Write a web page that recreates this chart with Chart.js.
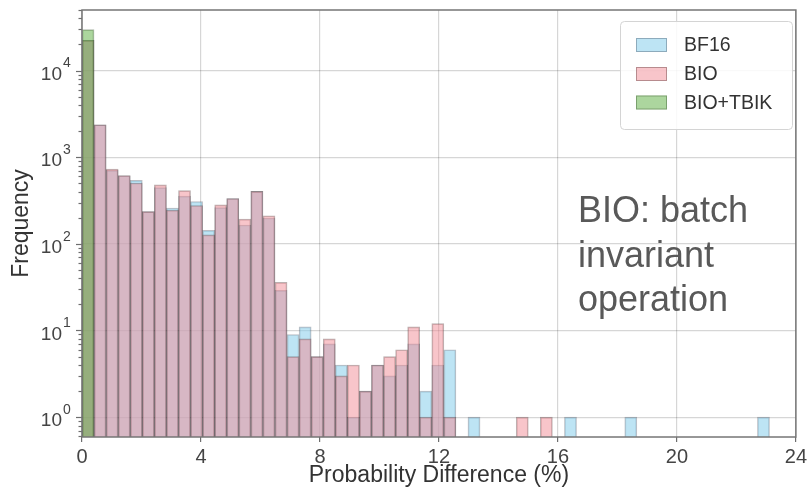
<!doctype html>
<html>
<head>
    <title>Probability Difference Histogram</title>
    <script src="https://cdn.jsdelivr.net/npm/chart.js@4.4.0/dist/chart.umd.min.js"></script>
    <style>
    body { margin: 0; background: #fff; }
    canvas { display: block; }
    </style>
</head>
<body>
    <canvas id="myChart" width="810" height="492"></canvas>
    <script>
    // histogram bins: index k covers [k*binWidth, (k+1)*binWidth) in %
    var binWidth = 0.4055;

    // counts per bin (57 bins, 0 = empty)
    var bf16Counts = [22300, 2370, 704, 611, 540, 235, 445, 259, 355, 308,
                      143, 262, 334, 165, 403, 199, 29, 9, 11, 5,
                      7, 4, 1, 2, 4, 3, 4, 7, 2, 4,
                      6, 0, 1, 0, 0, 0, 0, 0, 0, 0,
                      1, 0, 0, 0, 0, 1, 0, 0, 0, 0,
                      0, 0, 0, 0, 0, 0, 1];
    var bioCounts  = [22300, 2370, 731, 615, 504, 235, 479, 245, 412, 277,
                      127, 282, 334, 193, 403, 211, 36, 5, 8, 5,
                      8, 3, 4, 2, 4, 5, 6, 11, 1, 12,
                      1, 0, 0, 0, 0, 0, 1, 0, 1, 0,
                      0, 0, 0, 0, 0, 0, 0, 0, 0, 0,
                      0, 0, 0, 0, 0, 0, 0];
    var tbikCounts = [29700];

    var seriesLabels = ['BF16', 'BIO', 'BIO+TBIK'];
    var xTicks = [0, 4, 8, 12, 16, 20, 24];
    var yDecades = [0, 1, 2, 3, 4];
    var yMin = 0.59, yMax = 50000;
    var noteLines = ['BIO: batch', 'invariant', 'operation'];

    var fontFamily = "'Liberation Sans', Arial, Helvetica, sans-serif";
    var frameColor = '#767676';
    var gridColor = 'rgba(0,0,0,0.16)';

    // turn a count list into bar points at bin centres, skipping empty bins
    function toPoints(counts) {
        var pts = [];
        for (var k = 0; k < counts.length; k++) {
            if (counts[k] > 0) pts.push({x: (k + 0.5) * binWidth, y: counts[k]});
        }
        return pts;
    }

    function isDecade(v) {
        var l = Math.log10(v);
        return Math.abs(l - Math.round(l)) < 1e-9;
    }

    // frame, log ticks with superscript labels, legend box and side note
    var decorations = {
        id: 'decorations',
        afterDraw: function(chart) {
            var ctx = chart.ctx;
            var area = chart.chartArea;
            var ys = chart.scales.y;
            ctx.save();

            // minor / major tick marks on the log axis
            ctx.strokeStyle = '#6e6e6e';
            ctx.lineWidth = 1.2;
            for (var p = -1; p <= 4; p++) {
                for (var m = 1; m <= 9; m++) {
                    var v = m * Math.pow(10, p);
                    if (v < yMin || v > yMax) continue;
                    var py = Math.round(ys.getPixelForValue(v)) + 0.5;
                    var len = (m === 1) ? 6 : 3.5;
                    ctx.beginPath();
                    ctx.moveTo(area.left - len, py);
                    ctx.lineTo(area.left, py);
                    ctx.stroke();
                }
            }

            // 10^n labels
            ctx.fillStyle = '#444';
            yDecades.forEach(function(e) {
                var py = ys.getPixelForValue(Math.pow(10, e));
                ctx.font = '19px ' + fontFamily;
                ctx.textAlign = 'right';
                ctx.textBaseline = 'middle';
                ctx.fillText('10', 62, py + 4);
                ctx.font = '14px ' + fontFamily;
                ctx.textAlign = 'left';
                ctx.fillText(String(e), 63, py - 7);
            });

            // frame around the plot
            ctx.strokeStyle = frameColor;
            ctx.lineWidth = 1.5;
            ctx.strokeRect(area.left, area.top, area.right - area.left, area.bottom - area.top);

            // legend
            var lx = 620, ly = 21, lw = 172, lh = 108;
            ctx.beginPath();
            ctx.roundRect(lx + 0.5, ly + 0.5, lw, lh, 4);
            ctx.fillStyle = 'rgba(255,255,255,0.85)';
            ctx.fill();
            ctx.strokeStyle = '#d4d4d4';
            ctx.lineWidth = 1;
            ctx.stroke();
            var rows = [45, 74, 102.5];
            chart.data.datasets.forEach(function(ds, i) {
                ctx.fillStyle = ds.backgroundColor;
                ctx.fillRect(636, rows[i] - 7, 31, 14);
                ctx.strokeStyle = ds.borderColor;
                ctx.strokeRect(636.5, rows[i] - 6.5, 30, 13);
                ctx.fillStyle = '#333';
                ctx.font = '19.5px ' + fontFamily;
                ctx.textAlign = 'left';
                ctx.textBaseline = 'middle';
                ctx.fillText(ds.label, 684, rows[i] + 1);
            });

            // side note
            ctx.fillStyle = '#595959';
            ctx.font = '36px ' + fontFamily;
            ctx.textAlign = 'left';
            ctx.textBaseline = 'alphabetic';
            noteLines.forEach(function(t, i) {
                ctx.fillText(t, 578, 222 + i * 44.5);
            });
            ctx.restore();
        }
    };

    function drawGraph() {
        var ctx = document.getElementById('myChart').getContext('2d');
        Chart.defaults.font.family = fontFamily;
        new Chart(ctx, {
            type: 'bar',
            data: {
                // higher order is painted first, so BIO+TBIK sits on top
                datasets: [{
                    label: seriesLabels[0],
                    data: toPoints(bf16Counts),
                    order: 3,
                    backgroundColor: 'rgba(135,206,235,0.55)',
                    borderColor: 'rgba(30,40,60,0.3)',
                    borderWidth: 1
                }, {
                    label: seriesLabels[1],
                    data: toPoints(bioCounts),
                    order: 2,
                    backgroundColor: 'rgba(242,140,150,0.5)',
                    borderColor: 'rgba(60,30,30,0.35)',
                    borderWidth: 1
                }, {
                    label: seriesLabels[2],
                    data: toPoints(tbikCounts),
                    order: 1,
                    backgroundColor: 'rgba(70,165,40,0.45)',
                    borderColor: 'rgba(30,60,20,0.35)',
                    borderWidth: 1
                }]
            },
            options: {
                responsive: false,
                animation: false,
                devicePixelRatio: 1,
                grouped: false,
                barPercentage: 1,
                categoryPercentage: 1,
                layout: { padding: { top: 10, right: 13, bottom: 0, left: 0 } },
                plugins: {
                    legend: { display: false },
                    tooltip: { enabled: false }
                },
                scales: {
                    x: {
                        type: 'linear',
                        min: 0,
                        max: 24,
                        offset: false,
                        afterBuildTicks: function(s) {
                            s.ticks = xTicks.map(function(v) { return {value: v}; });
                        },
                        ticks: { color: '#444', font: { size: 20 }, padding: 3 },
                        grid: {
                            offset: false,
                            color: gridColor,
                            lineWidth: 1.2,
                            tickLength: 5,
                            tickColor: '#6e6e6e'
                        },
                        border: { display: false },
                        title: {
                            display: true,
                            text: 'Probability Difference (%)',
                            color: '#333',
                            font: { size: 23 },
                            padding: { top: 0, bottom: 3 }
                        },
                        afterFit: function(s) { s.height = 55; }
                    },
                    y: {
                        type: 'logarithmic',
                        min: yMin,
                        max: yMax,
                        ticks: { display: false },
                        grid: {
                            drawTicks: false,
                            lineWidth: 1.2,
                            color: function(c) {
                                return c.tick && isDecade(c.tick.value) ? gridColor : 'rgba(0,0,0,0)';
                            }
                        },
                        border: { display: false },
                        title: {
                            display: true,
                            text: 'Frequency',
                            color: '#333',
                            font: { size: 23 },
                            padding: { top: 8, bottom: 0 }
                        },
                        afterFit: function(s) { s.width = 82; }
                    }
                }
            },
            plugins: [decorations]
        });
    }

    window.onload = function() {
        drawGraph();
    };
    </script>
</body>
</html>
